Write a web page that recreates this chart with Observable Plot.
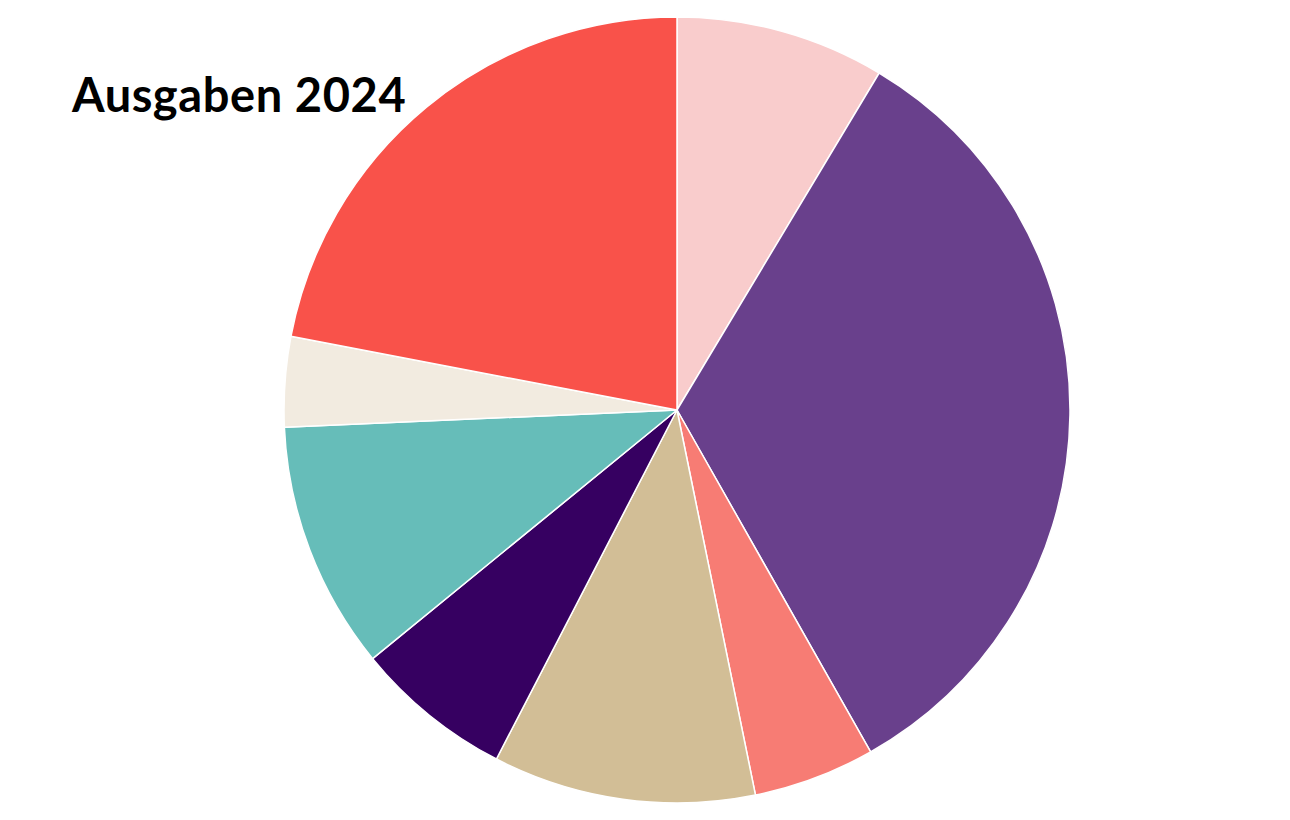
<!DOCTYPE html>
<html>
<head>
<meta charset="utf-8">
<script src="https://cdn.jsdelivr.net/npm/d3@7"></script>
<script src="https://cdn.jsdelivr.net/npm/@observablehq/plot@0.6"></script>
<style>
  html, body { margin: 0; padding: 0; background: #fff; }
  #wrap { position: relative; width: 1290px; height: 820px; }
  #title { position: absolute; left: 72px; top: 66px; font-family: Lato, "Open Sans", sans-serif; font-weight: 700; font-size: 47px; color: #000; letter-spacing: 0.6px; z-index: 2; }
</style>
</head>
<body>
<div id="wrap"><div id="title">Ausgaben 2024</div></div>
<script>
const title = "Ausgaben 2024";
const categories = ["Kategorie A", "Kategorie B", "Kategorie C", "Kategorie D", "Kategorie E", "Kategorie F", "Kategorie G", "Kategorie H"];
const values = [8.6, 33.2, 5.0, 10.8, 6.5, 10.2, 3.7, 22.0];
const colors = ["#f9cccc", "#69408c", "#f77c74", "#d2be96", "#360061", "#66bdb9", "#f2ebe0", "#f9524a"];

const data = categories.map((c, i) => ({category: c, value: values[i]}));
const arcs = d3.pie().sort(null).value(d => d.value)(data);

function pieMark(index, scales, vals, dimensions) {
  const cx = scales.x(0), cy = scales.y(0);
  const r = Math.abs(scales.x(1) - scales.x(0));
  const arc = d3.arc().innerRadius(0).outerRadius(r);
  const g = d3.create("svg:g").attr("transform", `translate(${cx},${cy})`);
  g.selectAll("path").data(arcs).join("path")
    .attr("d", arc)
    .attr("fill", d => scales.color(d.data.category))
    .attr("stroke", "#fff")
    .attr("stroke-width", 1.5)
    .attr("stroke-linejoin", "round");
  return g.node();
}

const W = 1290, H = 820, CX = 677, CY = 410, R = 393;
const chart = Plot.plot({
  width: W, height: H, margin: 0,
  x: {domain: [-CX / R, (W - CX) / R], axis: null},
  y: {domain: [-(H - CY) / R, CY / R], axis: null},
  color: {domain: categories, range: colors},
  marks: [pieMark]
});
document.getElementById("wrap").appendChild(chart);
</script>
</body>
</html>
